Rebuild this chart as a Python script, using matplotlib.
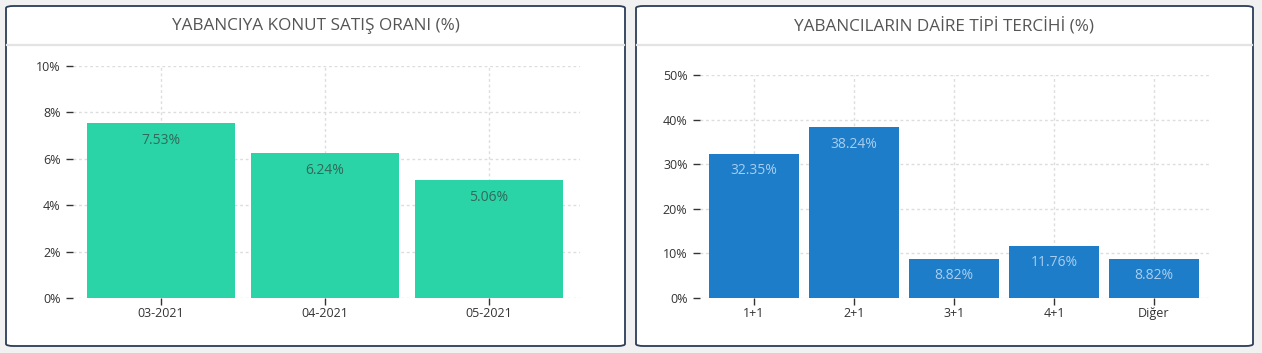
import matplotlib.pyplot as plt
from matplotlib.patches import FancyBboxPatch
from matplotlib.lines import Line2D

months = ['03-2021', '04-2021', '05-2021']
sale_rates = [7.53, 6.24, 5.06]
flat_types = ['1+1', '2+1', '3+1', '4+1', 'Diğer']
flat_shares = [32.35, 38.24, 8.82, 11.76, 8.82]

plt.rcParams['font.family'] = ['Open Sans', 'DejaVu Sans']

W, H = 1262, 353
fig = plt.figure(figsize=(W / 100, H / 100), dpi=100)
fig.patch.set_facecolor('#f1f1f1')


def panel(x0, x1, title):
    # white rounded card with title bar
    y0, y1 = 6, 346
    box = FancyBboxPatch((x0 / W, 1 - y1 / H), (x1 - x0) / W, (y1 - y0) / H,
                         boxstyle='round,pad=0,rounding_size=0.006',
                         transform=fig.transFigure, facecolor='white',
                         edgecolor='#2b3d58', linewidth=1.3, zorder=-2)
    fig.patches.append(box)
    fig.lines.append(Line2D([(x0 + 1) / W, (x1 - 1) / W], [1 - 45 / H, 1 - 45 / H],
                            transform=fig.transFigure, color='#e3e3e3', linewidth=1.6,
                            zorder=-1))
    fig.text((x0 + x1) / 2 / W, 1 - 26 / H, title, ha='center', va='center',
             fontsize=12.3, color='#555555')


def bar_chart(rect, cats, vals, color, label_color, yticks, xlim):
    ax = fig.add_axes(rect)
    ax.set_facecolor('none')
    x = list(range(len(cats)))
    ax.bar(x, vals, width=0.9, color=color, zorder=2)
    for xi, v in zip(x, vals):
        ax.annotate(f'{v:.2f}%', (xi, v), xytext=(0, -17), textcoords='offset pixels',
                    ha='center', va='center', fontsize=10, color=label_color, zorder=3)
    ax.set_xlim(*xlim)
    ax.set_ylim(0, yticks[-1])
    ax.set_yticks(yticks)
    ax.set_yticklabels([f'{t}%' for t in yticks])
    ax.set_xticks(x)
    ax.set_xticklabels(cats)
    for s in ax.spines.values():
        s.set_visible(False)
    ax.grid(True, color='#dddddd', linestyle=(0, (2, 2)), linewidth=1)
    ax.set_axisbelow(True)
    ax.tick_params(axis='both', labelsize=9, colors='#333333', length=5, width=1, pad=1.5)
    ax.tick_params(axis='y', pad=4)
    return ax


panel(6, 625, 'YABANCIYA KONUT SATIŞ ORANI (%)')
panel(636, 1253, 'YABANCILARIN DAİRE TİPİ TERCİHİ (%)')

bar_chart([73 / W, 55 / H, 507 / W, (298 - 65.7) / H], months, sale_rates,
          '#2ad4a6', '#33695b', [0, 2, 4, 6, 8, 10], (-0.537, 2.555))
bar_chart([700 / W, 55 / H, 509 / W, (298 - 75) / H], flat_types, flat_shares,
          '#1d7dc8', '#a9cdef', [0, 10, 20, 30, 40, 50], (-0.54, 4.55))

fig.savefig('out.png', dpi=100, facecolor=fig.get_facecolor())
